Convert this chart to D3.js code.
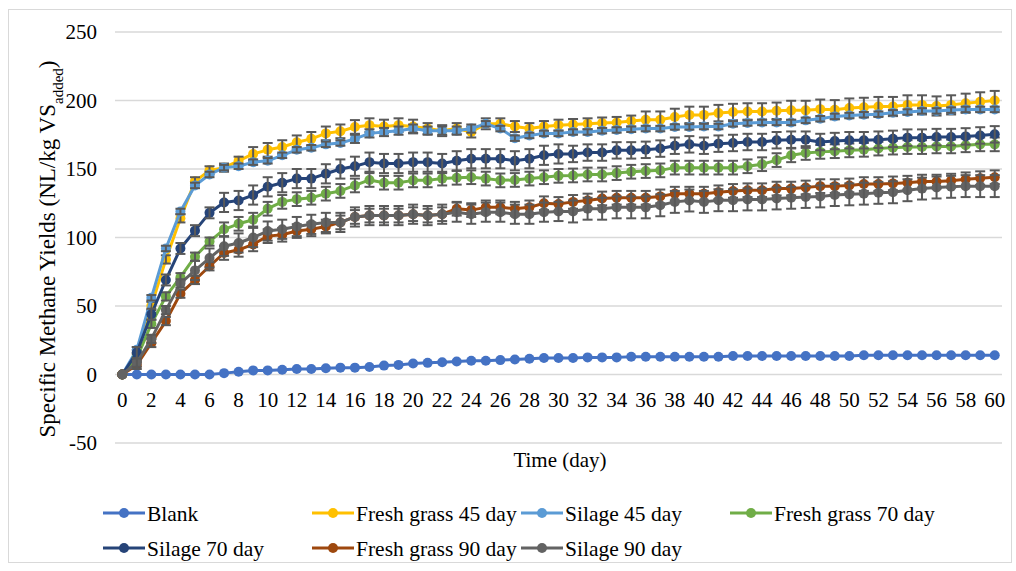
<!DOCTYPE html>
<html>
<head>
<meta charset="utf-8">
<script src="https://cdn.jsdelivr.net/npm/d3@7"></script>
<style>
  html, body { margin: 0; padding: 0; background: #ffffff; }
  svg { display: block; }
  text { font-family: "Liberation Serif", "Times New Roman", serif; fill: #000; }
</style>
</head>
<body>
<svg id="chart" width="1016" height="571"></svg>
<script>
// ---------- DATA ----------
const days = d3.range(0, 61);
const xTickLabels = d3.range(0, 61, 2);
const yTicks = [-50, 0, 50, 100, 150, 200, 250];

const seriesNames = ["Blank", "Fresh grass 45 day", "Silage 45 day", "Fresh grass 70 day",
                     "Silage 70 day", "Fresh grass 90 day", "Silage 90 day"];
const seriesColors = ["#4472C4", "#FFC000", "#5B9BD5", "#70AD47", "#264478", "#9E480E", "#636363"];

const blank = [0,0,0,0,0,0,0,1,2,3,3,3.5,4,4,4.5,5,5,5.5,6.5,7,8,8.5,9,9.5,10,10,10.5,11,11.5,12,12,
  12,12.5,12.5,12.5,13,13,13,13,13,13,13,13.5,13.5,13.5,13.5,13.5,13.5,13.5,13.5,13.5,14,14,14,14,14,14,14,14,14,14];
const freshGrass45 = [0,15,50,84,114,141,149,151,156,161,164,166,169.5,172,176,177.5,180.7,182,181,182,181,
  179.5,178,179.5,177,183,183,181,179.5,181,182,182.5,183,183.6,184,185,186,186,188,189.5,189.5,
  190.8,191.6,192,192,192.5,192.8,192.8,193.7,193.3,194.5,195,195.6,195.6,196.8,196.8,196,196.8,198,199,200];
const silage45 = [0,18,56,92,119,138,146,151,152,155,156,160,164,165.5,168,169,172,176,177,178,179.5,
  178,178,178,179.5,183,179.5,172.5,174.5,176,176,177,177,178,178.5,179,179.5,179.5,180.7,180.7,181,
  181,183,183.6,184,184,184,185.5,186.7,188.4,189,189.6,190,191,191.6,192.4,192.4,193,193.5,193.5,193.5];
const freshGrass70 = [0,12,37,57,71,86,97,106,110,113,121,126,128,129,132,134,138,142,140,140,141.7,
  141.7,143,143.6,144,143,141.7,142,143,144,145,145.3,146,146,147,148,148.5,149,151,151,151,
  151,151,152,153.5,156.5,160,161.7,162.5,163,163.6,164,164.9,165.6,166,166,166.5,166.5,167.3,168,168];
const silage70 = [0,16,44,69,92,105,118,125.6,127,131,137,140,143,143,146.5,150,152,155,154,154,155,
  155,154,156,157.5,157.5,157.5,156,157.5,160,161,161,162,162,163.6,163.6,164,164.9,167,168,167,
  168.5,169,169.7,169.7,171,171.4,171.4,169.7,170.4,171,171,171.4,172,172.9,172.9,173.3,173.3,173.8,174.5,175.3];
const freshGrass90 = [0,7,23,39,59,69,79,88.7,91,95,101,102,104.7,106,108,111,115,116,116,116,117,
  116,117,121,120,122,122,121,122,125,124.5,126,127,128.5,129,129,129,130,132,132,132,
  133,134,134.5,134.5,135.7,135.7,136.5,137.5,137.5,138,139,139,139.5,140,140.8,140.8,141.5,142.5,143.3,144];
const silage90 = [0,8.6,26,47,66.5,76,85,93.6,96,100,104.7,106,108,109.6,111,111,115,116,116,116,117,
  116,117,118.5,117,118.5,118.5,117,117,118.5,119,119,121,121,122,122,122,123.5,126,127,126,
  127.2,127.2,127.8,127.8,128.5,129,129.6,130,131,131.5,132,132.6,133,134.5,135.7,136.5,137,137.5,137.5,137.5];

// error bar half-lengths (standard deviation)
const errBlank = [0,0,0,0,0,0,0,0,0,0,0,0,0,0,0,0,0,0,0,0,0,0,0,0,0,0,0,0,0,0,0,
  0,0,0,0,0,0,0,0,0,0,0,0,0,0,0,0,0,0,0,0,0,0,0,0,0,0,0,0,0,0];
const errFG45 = [0,3,3,3,3,3,3,3,3,5,5,5,5,5,5,5,5,5,5,5,5,4,4,4,4,4,4,4,4,4,4,
  4,4,4,4,4,6,6,6,6,6,6,6,6,6,6,7,7,7,7,7,7,7,7,7,7,7,7,7,7,7];
const errS45 = [0,2,2,2,2,2,2,2,2,2,2,2,2,2,2,2,3,3,3,3,3,3,3,3,3,2,2,2,2,2,2,
  2,2,2,2,2,2,2,2,2,2,2,2,2,2,2,2,2,2,2,2,2,2,2,2,2,2,2,2,2,2];
const errFG70 = [0,3,3,3,3,3,3,5,5,5,5,5,5,5,5,5,5,5,5,5,5,5,5,5,5,5,5,5,5,5,5,
  5,5,5,5,5,5,5,5,5,5,5,5,5,5,5,5,5,5,5,5,5,5,5,5,5,5,5,5,5,5];
const errS70 = [0,4,4,4,4,4,4,7,7,7,7,7,7,7,7,7,7,7,7,7,7,7,7,7,7,7,7,7,7,7,7,
  6,6,6,6,6,6,6,6,6,6,6,6,6,6,6,6,6,6,6,6,6,6,6,6,6,6,6,6,6,6];
const errFG90 = [0,3,3,3,3,3,3,5,5,5,5,5,5,5,5,5,5,5,5,5,5,5,5,5,5,5,5,5,5,5,5,
  5,5,5,5,5,5,5,5,5,5,5,5,5,5,5,5,5,5,5,5,5,5,5,5,5,5,5,5,5,5];
const errS90 = [0,3,3,3,3,7,7,7,7,7,7,7,7,7,7,7,7,7,7,7,7,7,7,7,7,7,7,7,7,7,7,
  8,8,8,8,8,8,8,8,8,8,8,8,8,8,8,8,8,8,8,8,8,8,8,8,8,8,8,8,8,8];

const seriesValues = [blank, freshGrass45, silage45, freshGrass70, silage70, freshGrass90, silage90];
const seriesErrors = [errBlank, errFG45, errS45, errFG70, errS70, errFG90, errS90];

// ---------- LAYOUT ----------
const svg = d3.select("#chart");
const plotLeft = 115, plotRight = 1002, plotTop = 32, plotBottom = 443;

const x = d3.scaleBand().domain(days).range([plotLeft, plotRight]).paddingInner(0).paddingOuter(0);
const xc = d => x(d) + x.bandwidth() / 2;
const y = d3.scaleLinear().domain([-50, 250]).range([plotBottom, plotTop]);

// outer border
svg.append("rect").attr("x", 8.5).attr("y", 9.5).attr("width", 1003).attr("height", 553)
  .attr("fill", "none").attr("stroke", "#d9d9d9").attr("stroke-width", 1);

// gridlines
svg.append("g").selectAll("line").data(yTicks).join("line")
  .attr("x1", plotLeft).attr("x2", plotRight)
  .attr("y1", d => y(d)).attr("y2", d => y(d))
  .attr("stroke", "#d9d9d9").attr("stroke-width", 1.5);

// y tick labels
const yAxis = d3.axisLeft(y).tickValues(yTicks).tickSize(0).tickPadding(0).tickFormat(d => String(d));
const yg = svg.append("g").attr("transform", `translate(${plotLeft - 18},0)`).call(yAxis);
yg.select(".domain").remove();
yg.selectAll("text").style("font-family", "Liberation Serif, serif").style("font-size", "21px").attr("fill", "#000");

// x tick labels (at zero line)
const xAxis = d3.axisBottom(x).tickValues(xTickLabels).tickSize(0).tickPadding(0);
const xg = svg.append("g").attr("transform", `translate(0,${y(0) + 18})`).call(xAxis);
xg.select(".domain").remove();
xg.selectAll("text").style("font-family", "Liberation Serif, serif").style("font-size", "21px").attr("fill", "#000");

// axis titles
svg.append("text").attr("x", 560).attr("y", 467).attr("text-anchor", "middle")
  .style("font-size", "21px").text("Time (day)");

const yt = svg.append("text").attr("transform", "translate(55,249) rotate(-90)")
  .attr("text-anchor", "middle").style("font-size", "23px");
yt.append("tspan").text("Specific Methane Yields (NL/kg VS");
yt.append("tspan").attr("baseline-shift", "sub").style("font-size", "15px").text("added");
yt.append("tspan").text(")");

// ---------- SERIES ----------
const line = d3.line().x((v, i) => xc(days[i])).y(v => y(v));

seriesValues.forEach((vals, si) => {
  const g = svg.append("g");
  const col = seriesColors[si];
  g.append("path").datum(vals).attr("d", line).attr("fill", "none")
    .attr("stroke", col).attr("stroke-width", 3).attr("stroke-linejoin", "round");
  g.selectAll("circle").data(vals).join("circle")
    .attr("cx", (v, i) => xc(days[i])).attr("cy", v => y(v)).attr("r", 5).attr("fill", col);
  const errs = seriesErrors[si];
  const eb = g.append("g").attr("stroke", "#595959").attr("stroke-width", 2);
  vals.forEach((v, i) => {
    const e = errs[i];
    if (!e) return;
    const cx = xc(days[i]);
    eb.append("line").attr("x1", cx).attr("x2", cx).attr("y1", y(v + e)).attr("y2", y(v - e));
    eb.append("line").attr("x1", cx - 5).attr("x2", cx + 5).attr("y1", y(v + e)).attr("y2", y(v + e));
    eb.append("line").attr("x1", cx - 5).attr("x2", cx + 5).attr("y1", y(v - e)).attr("y2", y(v - e));
  });
});

// ---------- LEGEND ----------
const legCols = [103, 312, 521, 730];
const legRows = [513, 548];
seriesNames.forEach((name, i) => {
  const lx = legCols[i % 4], ly = legRows[Math.floor(i / 4)];
  const g = svg.append("g");
  g.append("line").attr("x1", lx).attr("x2", lx + 42).attr("y1", ly).attr("y2", ly)
    .attr("stroke", seriesColors[i]).attr("stroke-width", 3);
  g.append("circle").attr("cx", lx + 21).attr("cy", ly).attr("r", 5).attr("fill", seriesColors[i]);
  g.append("text").attr("x", lx + 44).attr("y", ly).attr("dy", "0.35em")
    .style("font-size", "21.5px").text(name);
});
</script>
</body>
</html>
